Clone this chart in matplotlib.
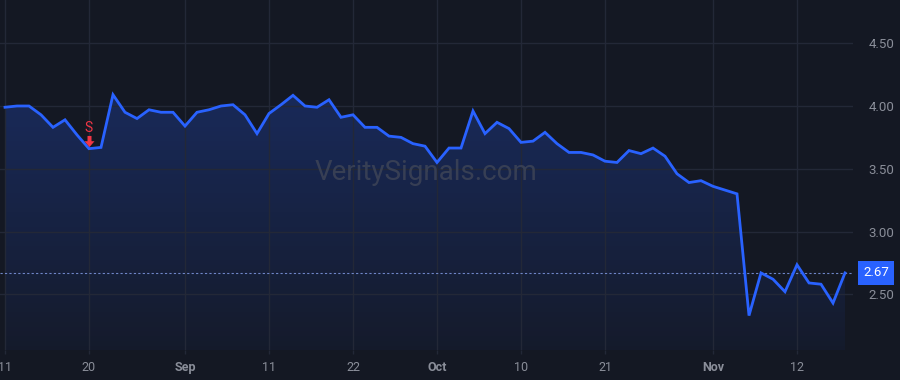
import numpy as np
import pandas as pd
import matplotlib
matplotlib.use("Agg")
import matplotlib.pyplot as plt
from matplotlib.patches import Polygon
from matplotlib.path import Path
from matplotlib.colors import LinearSegmentedColormap

# ---- data ----
values = [3.99, 4.00, 4.00, 3.93, 3.83, 3.89, 3.77, 3.66, 3.67, 4.09,
          3.95, 3.90, 3.97, 3.95, 3.95, 3.84, 3.95, 3.97, 4.00, 4.01,
          3.93, 3.78, 3.94, 4.01, 4.085, 4.00, 3.99, 4.05, 3.91, 3.93,
          3.83, 3.83, 3.76, 3.75, 3.70, 3.68, 3.55, 3.665, 3.665, 3.96,
          3.78, 3.87, 3.82, 3.71, 3.72, 3.79, 3.70, 3.63, 3.63, 3.61,
          3.56, 3.55, 3.645, 3.62, 3.665, 3.60, 3.46, 3.39, 3.405, 3.36,
          3.33, 3.30, 2.33, 2.67, 2.62, 2.52, 2.735, 2.59, 2.58, 2.43,
          2.67]
holidays = ["2025-09-01"]
dates = [d for d in pd.bdate_range("2025-08-11", "2025-11-18") if d.strftime("%Y-%m-%d") not in holidays]
tick_dates = ["2025-08-11", "2025-08-20", "2025-09-02", "2025-09-11", "2025-09-22",
              "2025-10-01", "2025-10-10", "2025-10-21", "2025-11-03", "2025-11-12"]
tick_labels = ["11", "20", "Sep", "11", "22", "Oct", "10", "21", "Nov", "12"]
month_labels = {"Sep", "Oct", "Nov"}
y_ticks = [2.50, 3.00, 3.50, 4.00, 4.50]
last_price = 2.67
signal_date = "2025-08-20"
signal_label = "S"
watermark = "VeritySignals.com"

# ---- style ----
BG = "#141823"
GRID = "#232837"
LINE = "#2962ff"
TXT = "#8a8e99"
RED = "#f23645"
plt.rcParams['font.family'] = ['Roboto', 'DejaVu Sans']

date_strs = [d.strftime("%Y-%m-%d") for d in dates]
x = np.arange(len(values))
y = np.array(values)

fig = plt.figure(figsize=(9, 3.8), dpi=100, facecolor=BG)
ax = fig.add_axes([0, 30 / 380, 853 / 900, 350 / 380])
ax.set_facecolor(BG)
ymin, ymax = 4.0 - 244 / 125.5, 4.0 + 106 / 125.5
xmin, xmax = -5 / 12, len(values) - 1 + 8 / 12
ax.set_xlim(xmin, xmax)
ax.set_ylim(ymin, ymax)

# gradient fill under line
grad = np.linspace(0, 1, 256).reshape(-1, 1)
cmap = LinearSegmentedColormap.from_list("g", [(0.16, 0.38, 1.0, 0.04), (0.16, 0.38, 1.0, 0.25)])
ytop = y.max()
im = ax.imshow(grad, extent=[x[0], x[-1], ymin, ytop], origin="lower", aspect="auto",
               cmap=cmap, zorder=1)
poly = Polygon(np.column_stack([np.r_[x[0], x, x[-1]], np.r_[ymin, y, ymin]]),
               closed=True, transform=ax.transData, facecolor="none", edgecolor="none")
ax.add_patch(poly)
im.set_clip_path(poly)

ax.plot(x, y, color=LINE, lw=2, zorder=3, solid_joinstyle="miter")

# grid / ticks
tick_idx = [date_strs.index(t) for t in tick_dates]
ax.set_xticks(tick_idx)
ax.set_xticklabels(tick_labels)
for lbl in ax.get_xticklabels():
    if lbl.get_text() in month_labels:
        lbl.set_fontweight("bold")
ax.set_yticks(y_ticks)
ax.set_yticklabels([f"{v:.2f}" for v in y_ticks])
ax.grid(True, color=GRID, lw=1, zorder=0)
ax.yaxis.tick_right()
ax.tick_params(axis="y", length=0, pad=11, labelsize=9.5, colors=TXT)
ax.tick_params(axis="x", length=3, width=1, color=GRID, pad=5, labelsize=9, colors=TXT)
for s in ax.spines.values():
    s.set_visible(False)

# last price line
ax.axhline(last_price, color="#6f86c8", lw=0.8, ls=(0, (2, 2)), zorder=2)
ax.annotate(f"{last_price:.2f}", xy=(1, last_price), xycoords=("axes fraction", "data"),
            xytext=(16.5, 0), textcoords="offset points", ha="center", va="center",
            fontsize=9.5, color="white",
            bbox=dict(boxstyle="square,pad=0.4", fc=LINE, ec="none"), annotation_clip=False)

# signal marker (down arrow)
si = date_strs.index(signal_date)
sv = values[si]
arrow_path = Path([(-0.36, 1.0), (0.36, 1.0), (0.36, 0.05), (0.9, 0.05), (0.0, -1.0),
                   (-0.9, 0.05), (-0.36, 0.05), (-0.36, 1.0)],
                  [Path.MOVETO] + [Path.LINETO] * 6 + [Path.CLOSEPOLY])
ax.plot([si], [sv + 0.062], marker=arrow_path, markersize=8, color=RED, mec="none",
        linestyle="none", zorder=4)
ax.text(si, sv + 0.168, signal_label, color=RED, fontsize=10, ha="center", va="center", zorder=4)

# watermark
fig.text(426 / 900, 1 - 173 / 380, watermark, ha="center", va="center",
         fontsize=20, color="#3b4256", alpha=0.9, zorder=2)

fig.savefig("out.png", dpi=100, facecolor=BG)
